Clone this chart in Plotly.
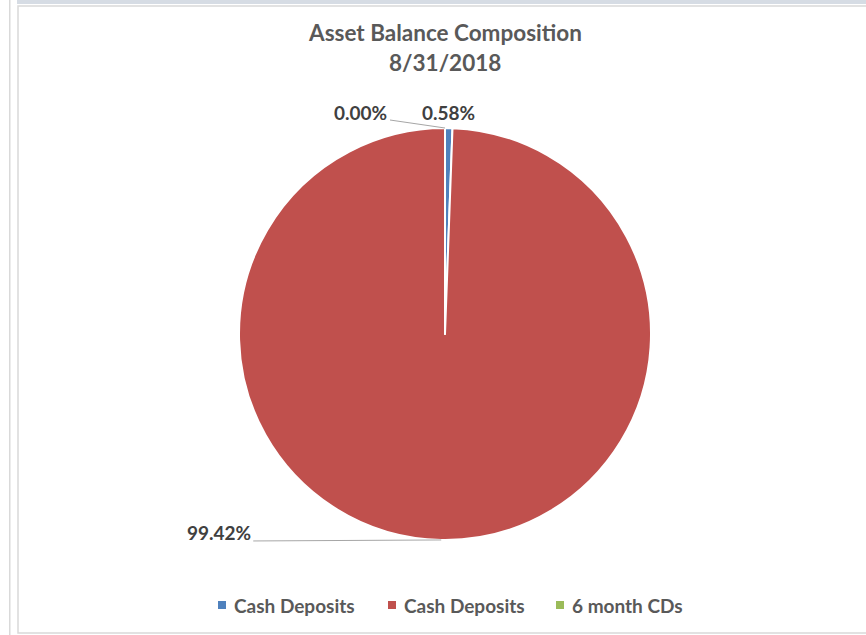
import math
import plotly.graph_objects as go

# ---- data ----
labels = ["Cash Deposits", "Cash Deposits", "6 month CDs"]
values = [0.58, 99.42, 0.00]
value_text = ["0.58%", "99.42%", "0.00%"]
colors = ["#4F81BD", "#C0504D", "#9BBB59"]
title_lines = ["Asset Balance Composition", "8/31/2018"]

W, H = 866, 635
L, R, T, B = 60, 36, 128, 95
PW, PH = W - L - R, H - T - B
CX, CY = L + PW / 2, T + PH / 2
RAD = min(PW, PH) / 2
FONT = "Lato, Open Sans, sans-serif"

def to_paper(px, py):
    return (px - L) / PW, 1 - (py - T) / PH

# mid angles (clockwise from 12 o'clock)
total = sum(values)
mids = []
acc = 0.0
for v in values:
    a0 = acc / total * 360
    acc += v
    a1 = acc / total * 360
    mids.append((a0 + a1) / 2)

def edge(angle_deg, r=RAD):
    a = math.radians(angle_deg)
    return CX + r * math.sin(a), CY - r * math.cos(a)

fig = go.Figure(go.Pie(
    labels=["%s (%d)" % (l, i) for i, l in enumerate(labels)], values=values,
    sort=False, direction="clockwise", rotation=0,
    marker=dict(colors=colors, line=dict(color="white", width=2)),
    textinfo="none", hovertext=labels, hoverinfo="text+percent", showlegend=False,
))

font_lbl = dict(family=FONT, size=19, color="#404040")
annotations = []
shapes = []

# value labels (offsets from slice edge, in pixels)
label_offsets = [(0, -16), (-222, -7), (-84, -16)]
line_targets = [None, (-188, 1), (-55, -8)]
for i, t in enumerate(value_text):
    ex, ey = edge(mids[i])
    dx, dy = label_offsets[i]
    px, py = to_paper(ex + dx, ey + dy)
    annotations.append(dict(x=px, y=py, xref="paper", yref="paper", text="<b>%s</b>" % t,
                            showarrow=False, font=font_lbl, xanchor="center", yanchor="middle"))
    if line_targets[i] is not None:
        x0, y0 = to_paper(ex, ey)
        x1, y1 = to_paper(ex + line_targets[i][0], ey + line_targets[i][1])
        shapes.append(dict(type="line", xref="paper", yref="paper", x0=x0, y0=y0, x1=x1, y1=y1,
                           line=dict(color="#A6A6A6", width=1)))

# title
for j, line in enumerate(title_lines):
    tx, ty = to_paper(CX, 32 + 30 * j)
    annotations.append(dict(x=tx, y=ty, xref="paper", yref="paper",
                            text="<b>%s</b>" % line, showarrow=False, xanchor="center", yanchor="middle",
                            font=dict(family=FONT, size=22.5, color="#595959")))

# manual legend
legend_x = [218, 388, 556]
LEG_Y = 605
for lx, lab, col in zip(legend_x, labels, colors):
    x0, y0 = to_paper(lx, LEG_Y - 4)
    x1, y1 = to_paper(lx + 8, LEG_Y + 4)
    shapes.append(dict(type="rect", xref="paper", yref="paper", x0=x0, y0=y0, x1=x1, y1=y1,
                       fillcolor=col, line=dict(width=0)))
    tx, ty = to_paper(lx + 14, LEG_Y)
    annotations.append(dict(x=tx, y=ty, xref="paper", yref="paper", text="<b>%s</b>" % lab,
                            showarrow=False, xanchor="left", yanchor="middle",
                            font=dict(family=FONT, size=19, color="#595959")))

# chart frame decorations
def rect(px0, py0, px1, py1, **kw):
    x0, y0 = to_paper(px0, py0)
    x1, y1 = to_paper(px1, py1)
    return dict(type="rect", xref="paper", yref="paper", x0=x0, y0=y0, x1=x1, y1=y1, **kw)

shapes.append(rect(17, 0, 866, 4, fillcolor="#D6DCE4", line=dict(width=0), layer="below"))
shapes.append(rect(18, 6, 870, 633, fillcolor="rgba(0,0,0,0)", line=dict(color="#D9D9D9", width=1.5), layer="below"))
shapes.append(rect(9, 0, 10.5, 635, fillcolor="#D9D9D9", line=dict(width=0), layer="below"))

fig.update_layout(
    width=W, height=H,
    margin=dict(l=L, r=R, t=T, b=B),
    paper_bgcolor="white", plot_bgcolor="white",
    showlegend=False,
    annotations=annotations, shapes=shapes,
)

fig.write_html("out.html")
